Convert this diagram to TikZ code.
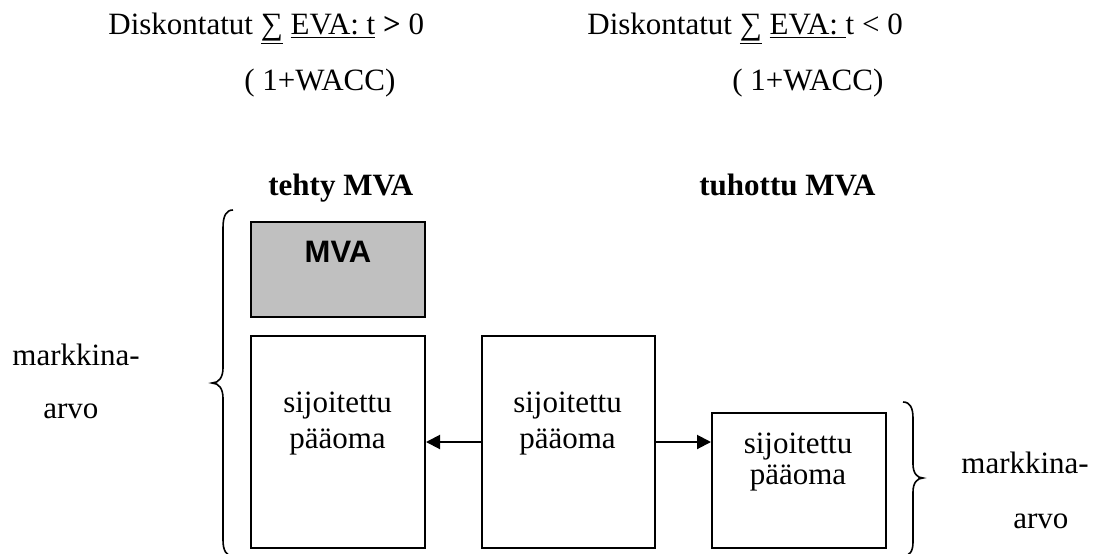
\documentclass[tikz,border=0pt]{standalone}
\usepackage{fontspec}
\setmainfont{Liberation Serif}
\newfontfamily\arialfont{Liberation Sans}
\usetikzlibrary{arrows.meta}
\definecolor{mvagray}{HTML}{C0C0C0}
\tikzset{
  txt/.style={inner sep=0pt, font=\fontsize{15.5}{18.6}\selectfont},
  boxnode/.style={draw, line width=1pt, inner sep=0pt, anchor=north west},
  arr/.style={line width=1pt, -{Triangle[length=7pt,width=7pt]}},
  brace/.style={line width=0.8pt},
}
\begin{document}
\begin{tikzpicture}[x=0.5pt,y=-0.5pt]
\useasboundingbox (0,0) rectangle (1104,553);
% top formulas
\node[txt, anchor=base west] (f1) at (108,34) {Diskontatut \underline{∑} \underline{EVA: t} \textbf{>} 0};
\node[txt, anchor=base west] (f1d) at (244,90) {( 1+WACC)};
\node[txt, anchor=base west] (f2) at (587,34) {Diskontatut \underline{∑} \underline{EVA:\ }t < 0};
\node[txt, anchor=base west] (f2d) at (732,90) {( 1+WACC)};
% headings
\node[txt, anchor=base west, font=\fontsize{15.5}{18.6}\selectfont\bfseries] (h1) at (268,195) {tehty MVA};
\node[txt, anchor=base west, font=\fontsize{15.5}{18.6}\selectfont\bfseries] (h2) at (699,195) {tuhottu MVA};
% boxes
\node[boxnode, fill=mvagray, minimum width=87pt, minimum height=47.5pt] (mva) at (250,221) {};
\node[txt, anchor=base, font=\fontsize{15.5}{18.6}\arialfont\bfseries] (mvat) at (338,262) {MVA};
\node[boxnode, minimum width=87pt, minimum height=106pt] (lbox) at (250,335) {};
\node[boxnode, minimum width=86.5pt, minimum height=106pt] (mbox) at (481,335) {};
\node[boxnode, minimum width=87pt, minimum height=67.5pt] (rbox) at (711,412) {};
% box texts
\node[txt, anchor=base] (l1) at (337.5,412) {sijoitettu};
\node[txt, anchor=base] (l2) at (337.5,448) {pääoma};
\node[txt, anchor=base] (m1) at (567.5,412) {sijoitettu};
\node[txt, anchor=base] (m2) at (567.5,448) {pääoma};
\node[txt, anchor=base] (r1) at (798,453) {sijoitettu};
\node[txt, anchor=base] (r2) at (798,484) {pääoma};
% arrows
\draw[arr] (mbox.west) -- (lbox.east);
\draw[arr] (mbox.east) -- (rbox.west |- mbox.east);
% braces
\draw[brace] (233,210) .. controls (226,210) and (223,216) .. (223,228) -- (223,368)
  .. controls (223,377) and (219,383) .. (212,383)
  .. controls (219,383) and (223,389) .. (223,398) -- (223,540)
  .. controls (223,550) and (226,556) .. (233,556);
\draw[brace] (903,402) .. controls (910,402) and (913,408) .. (913,418) -- (913,464)
  .. controls (913,473) and (917,478) .. (923,478)
  .. controls (917,478) and (913,483) .. (913,492) -- (913,542)
  .. controls (913,551) and (910,556) .. (903,556);
% side labels
\node[txt, anchor=base west] (ml1) at (12,365) {markkina-};
\node[txt, anchor=base west] (ml2) at (43,418) {arvo};
\node[txt, anchor=base west] (mr1) at (961,473) {markkina-};
\node[txt, anchor=base west] (mr2) at (1013,528) {arvo};
\end{tikzpicture}
\end{document}
